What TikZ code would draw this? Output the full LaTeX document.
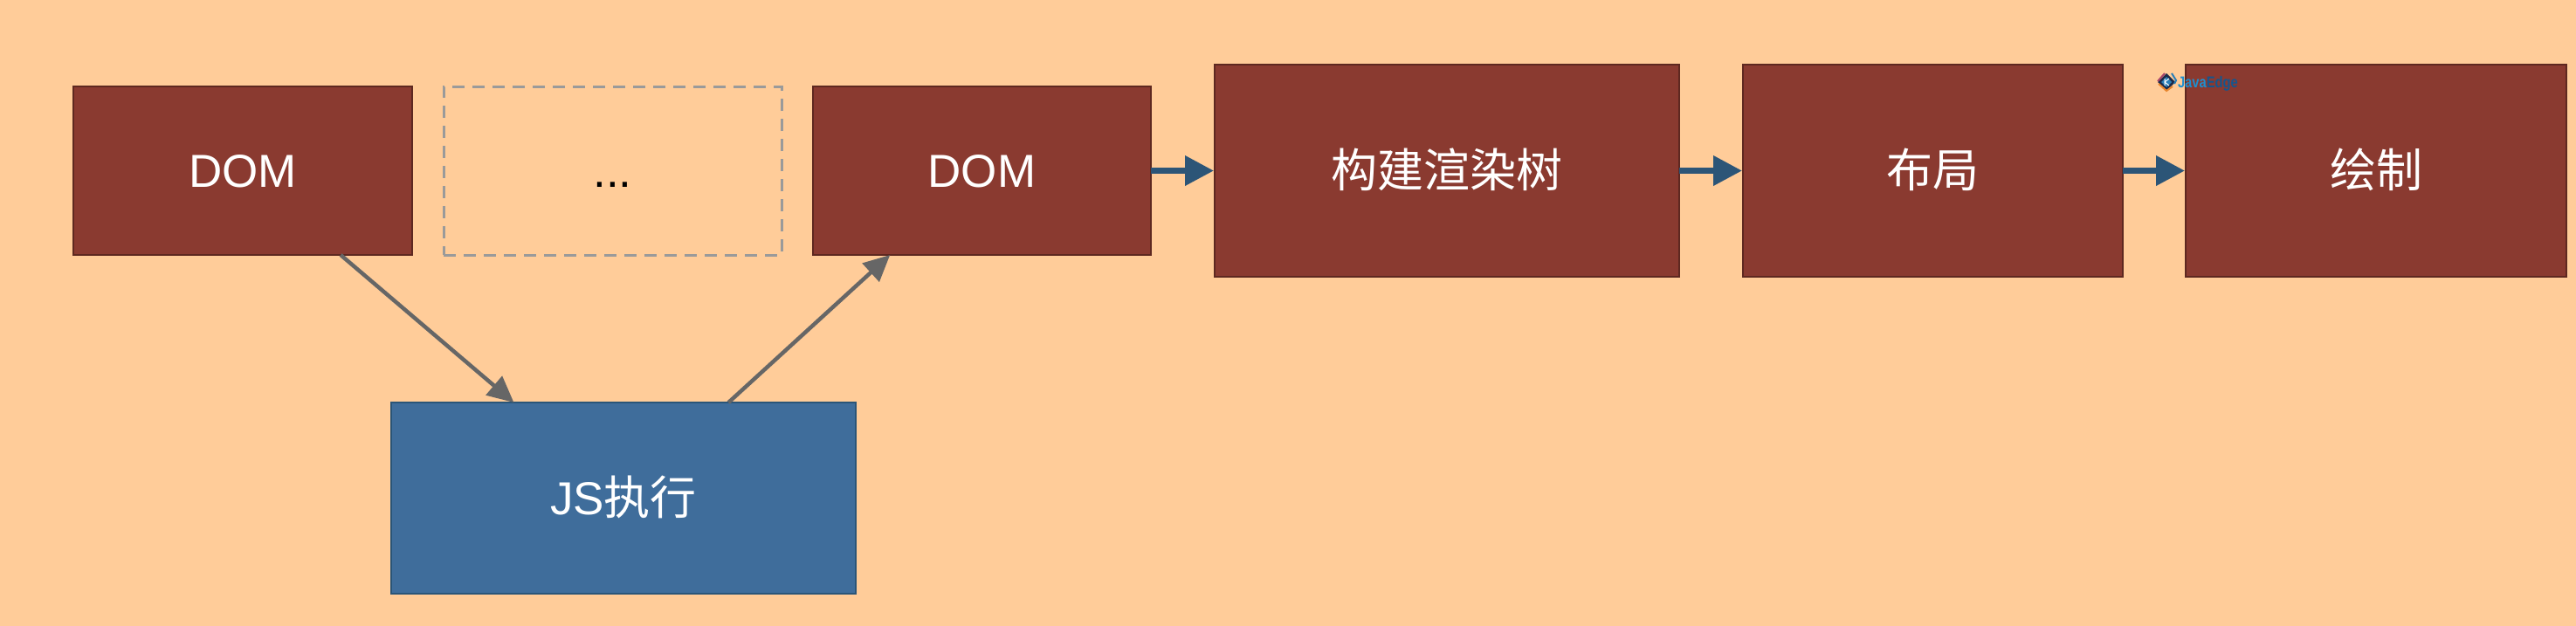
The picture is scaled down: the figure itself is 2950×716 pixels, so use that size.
\documentclass[tikz,border=0pt]{standalone}
\usepackage{fontspec}
\usepackage{graphicx}
\setmainfont{Liberation Sans}
\newfontfamily\cjk{Noto Sans CJK SC}
\usetikzlibrary{calc,arrows.meta}
\definecolor{bgc}{HTML}{FFCC99}
\definecolor{redf}{HTML}{8A3A30}
\definecolor{reds}{HTML}{5E2820}
\definecolor{bluef}{HTML}{3F6D9B}
\definecolor{blues}{HTML}{2A5578}
\definecolor{arrb}{HTML}{2C5577}
\definecolor{arrg}{HTML}{666666}
\definecolor{dashc}{HTML}{9A9A9A}
\definecolor{javac}{HTML}{1E8FD0}
\definecolor{edgec}{HTML}{14568F}
\definecolor{logod}{HTML}{1B2A4A}
\definecolor{logob}{HTML}{2A7FB8}
\definecolor{logoo}{HTML}{E8872E}
\definecolor{logop}{HTML}{A8436A}
\tikzset{
  base/.style={rectangle,inner sep=0pt,outer sep=0pt,line width=2.5pt,anchor=center,
    font=\fontsize{53}{53}\selectfont,text height=38pt,text depth=0pt},
  redbox/.style={base,draw=reds,fill=redf,text=white},
  bluebox/.style={base,draw=blues,fill=bluef,text=white},
  dashbox/.style={base,draw=dashc,line width=3pt,dash pattern=on 14pt off 9pt,text=black},
  flowarrow/.style={draw=arrb,line width=7pt,-{Triangle[length=33pt,width=33pt]},shorten >=1pt},
  grayarrow/.style={draw=arrg,line width=4.5pt,-{Triangle[length=30pt,width=28pt]}},
  mark text/.style={inner sep=0pt,outer sep=0pt,anchor=base west,font=\bfseries\fontsize{18}{18}\selectfont},
}
\newcommand{\boxat}[7]{\node[#1,minimum width=#5pt-#4pt,minimum height=#7pt-#6pt] (#2) at ({(#4+#5)/2},{(#6+#7)/2}) {#3};}
\begin{document}
\begin{tikzpicture}[x=1pt,y=-1pt]
\useasboundingbox (0,0) rectangle (2950,716);
\fill[bgc] (-2,-2) rectangle (2952,718);
\boxat{redbox}{dom1}{DOM}{84}{472}{99}{292}
\boxat{dashbox}{dots}{...}{508}{895}{99}{292}
\boxat{redbox}{dom2}{DOM}{931}{1318}{99}{292}
\boxat{redbox}{render}{\cjk 构建渲染树}{1391}{1923}{74}{317}
\boxat{redbox}{layout}{\cjk 布局}{1996}{2431}{74}{317}
\boxat{redbox}{paint}{\cjk 绘制}{2503}{2939}{74}{317}
\boxat{bluebox}{js}{JS{\cjk 执行}}{448}{980}{461}{680}
\draw[flowarrow] (dom2.east) -- (render.west);
\draw[flowarrow] (render.east) -- (layout.west);
\draw[flowarrow] (layout.east) -- (paint.west);
\draw[grayarrow] ($(dom1.south west)!0.789!(dom1.south east)$) -- ($(js.north west)!0.264!(js.north east)$);
\draw[grayarrow] ($(js.north west)!0.726!(js.north east)$) -- ($(dom2.south west)!0.228!(dom2.south east)$);
% watermark logo
\fill[logod] (2481,84) -- (2491,94) -- (2481,104) -- (2471,94) -- cycle;
\fill[logob] (2481,88) -- (2487,94) -- (2481,100) -- (2475,94) -- cycle;
\draw[logop,line width=2pt] (2479,84) -- (2471,93);
\draw[logoo,line width=2pt] (2472,96) -- (2481,104) -- (2488,99);
\draw[logob,line width=2pt] (2487,84) -- (2492,92) -- (2490,96);
\draw[white,line width=1pt] (2479,90) -- (2479,98) (2484,90) -- (2479,94) -- (2484,98);
\node[mark text] (mark) at (2494,100) {\scalebox{.82}[1]{\textcolor{javac}{Java}\textcolor{edgec}{Edge}}};
\end{tikzpicture}
\end{document}
